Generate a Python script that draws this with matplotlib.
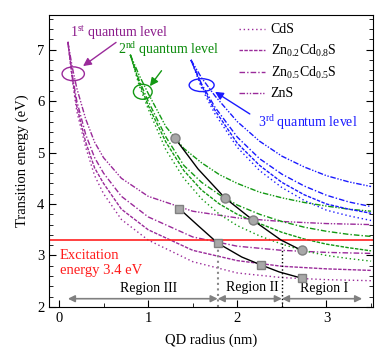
import matplotlib
matplotlib.use('Agg')
import matplotlib.pyplot as plt
from matplotlib.patches import Ellipse
from matplotlib.ticker import MultipleLocator

plt.rcParams['font.family'] = ['Liberation Serif', 'DejaVu Serif']
plt.rcParams['mathtext.fontset'] = 'custom'
plt.rcParams['mathtext.rm'] = 'Liberation Serif'
plt.rcParams['mathtext.it'] = 'Liberation Serif:italic'

materials = ['CdS', 'Zn$_{\\mathrm{0.2}}$Cd$_{\\mathrm{0.8}}$S',
             'Zn$_{\\mathrm{0.5}}$Cd$_{\\mathrm{0.5}}$S', 'ZnS']

# 1st quantum level (purple)
r_level1 = [0.1, 0.15, 0.2, 0.3, 0.4, 0.5, 0.7, 1.0, 1.5, 2.0, 2.5, 3.0, 3.5]
e1_cds = [7.15, 6.4, 5.8, 5.1, 4.55, 4.2, 3.7, 3.3, 2.88, 2.66, 2.57, 2.53, 2.51]
e1_zn02 = [7.15, 6.45, 5.9, 5.2, 4.7, 4.4, 3.9, 3.5, 3.1, 2.9, 2.79, 2.74, 2.71]
e1_zn05 = [7.15, 6.5, 6.0, 5.35, 4.9, 4.6, 4.15, 3.75, 3.36, 3.18, 3.10, 3.06, 3.04]
e1_zns = [7.15, 6.65, 6.25, 5.65, 5.2, 4.9, 4.5, 4.15, 3.86, 3.73, 3.66, 3.62, 3.60]

# 2nd quantum level (green)
r_level2 = [0.8, 0.9, 1.0, 1.2, 1.4, 1.6, 1.8, 2.0, 2.25, 2.5, 2.75, 3.0, 3.25, 3.5]
e2_cds = [6.9, 6.3, 5.85, 5.05, 4.5, 4.1, 3.8, 3.58, 3.38, 3.22, 3.09, 3.0, 2.94, 2.89]
e2_zn02 = [6.9, 6.35, 5.92, 5.2, 4.65, 4.27, 4.0, 3.8, 3.62, 3.45, 3.32, 3.22, 3.15, 3.09]
e2_zn05 = [6.9, 6.4, 6.0, 5.3, 4.75, 4.42, 4.18, 3.98, 3.8, 3.66, 3.55, 3.47, 3.41, 3.37]
e2_zns = [6.9, 6.5, 6.15, 5.5, 5.08, 4.8, 4.57, 4.4, 4.23, 4.12, 4.03, 3.96, 3.9, 3.86]

# 3rd quantum level (blue)
r_level3 = [1.48, 1.6, 1.75, 2.0, 2.25, 2.5, 2.75, 3.0, 3.25, 3.5]
e3_cds = [6.8, 6.25, 5.75, 5.1, 4.65, 4.32, 4.07, 3.88, 3.77, 3.68]
e3_zn02 = [6.8, 6.3, 5.82, 5.18, 4.75, 4.42, 4.18, 4.0, 3.9, 3.82]
e3_zn05 = [6.8, 6.33, 5.88, 5.3, 4.88, 4.58, 4.35, 4.17, 4.04, 3.95]
e3_zns = [6.8, 6.45, 6.1, 5.6, 5.22, 4.93, 4.72, 4.55, 4.43, 4.34]

# marked points and the black guide curves through them
circle_r = [1.30, 1.86, 2.18, 2.72]
circle_e = [5.28, 4.12, 3.68, 3.10]
circle_curve_r = [1.30, 1.56, 1.86, 2.18, 2.49, 2.72]
circle_curve_e = [5.28, 4.68, 4.12, 3.68, 3.30, 3.10]
square_r = [1.35, 1.78, 2.26, 2.72]
square_e = [3.91, 3.24, 2.82, 2.56]
square_curve_r = [1.35, 1.56, 1.78, 2.05, 2.26, 2.47, 2.72]
square_curve_e = [3.91, 3.58, 3.24, 2.97, 2.82, 2.68, 2.56]

excitation = 3.3
region_bounds = [0.1, 1.78, 2.5, 3.4]
region_names = ['Region III', 'Region II', 'Region I']

styles = [(0, (1, 2)), (0, (2.5, 1)), (0, (4, 1.5, 1, 1.5)), (0, (4, 1.2, 1, 1.2, 1, 1.2))]
purple = '#9a2a9a'
green = '#139913'
blue = '#1a1aff'

fig = plt.figure(figsize=(3.84, 3.52), dpi=100)
ax = fig.add_axes([0.128, 0.128, 0.843, 0.829])

level_sets = [
    (r_level1, [e1_cds, e1_zn02, e1_zn05, e1_zns], purple),
    (r_level2, [e2_cds, e2_zn02, e2_zn05, e2_zns], green),
    (r_level3, [e3_cds, e3_zn02, e3_zn05, e3_zns], blue),
]
for r, curves, col in level_sets:
    for i, e in enumerate(curves):
        label = materials[i] if col == purple else None
        ax.plot(r, e, color=col, lw=1.0, linestyle=styles[i], label=label)

ax.axhline(excitation, color='#ff2020', lw=1.2, zorder=2)

ax.plot(circle_curve_r, circle_curve_e, color='black', lw=1.0, zorder=3)
ax.plot(square_curve_r, square_curve_e, color='black', lw=1.0, zorder=3)
ax.plot(circle_r, circle_e, 'o', ms=6.5, mfc='#a8a8a8', mec='#808080', mew=1, zorder=4)
ax.plot(square_r, square_e, 's', ms=5.5, mfc='#a8a8a8', mec='#808080', mew=1, zorder=4)

# region boundaries
ax.plot([region_bounds[1]] * 2, [2, excitation], color='#888888', lw=1.5, linestyle=':', zorder=2)
ax.plot([region_bounds[2]] * 2, [2, excitation], color='black', lw=1.0, linestyle=':', zorder=2)
for i in range(3):
    ax.annotate('', xy=(region_bounds[i], 2.16), xytext=(region_bounds[i + 1], 2.16),
                arrowprops=dict(arrowstyle='<|-|>', color='#808080', lw=1.2,
                                mutation_scale=10, shrinkA=0, shrinkB=0))
region_text_pos = [(1.01, 2.36), (2.17, 2.38), (2.97, 2.36)]
for name, (x, y) in zip(region_names, region_text_pos):
    ax.text(x, y, name, ha='center', va='center', fontsize=10)

ax.text(0.01, 2.85, 'Excitation\nenergy 3.4 eV', color='#ff1a1a', fontsize=10.5,
        ha='left', va='center', linespacing=1.2)

# level annotations
ax.add_patch(Ellipse((0.16, 6.53), 0.25, 0.27, fill=False, ec=purple, lw=1.0))
ax.add_patch(Ellipse((0.94, 6.18), 0.21, 0.29, fill=False, ec=green, lw=1.0))
ax.add_patch(Ellipse((1.60, 6.31), 0.28, 0.25, fill=False, ec=blue, lw=1.0))
ax.annotate('', xy=(0.27, 6.68), xytext=(0.64, 7.14),
            arrowprops=dict(arrowstyle='-|>', color=purple, lw=1.0, mutation_scale=12,
                            shrinkA=0, shrinkB=0))
ax.annotate('', xy=(1.02, 6.29), xytext=(1.15, 6.59),
            arrowprops=dict(arrowstyle='-|>', color=green, lw=1.0, mutation_scale=12,
                            shrinkA=0, shrinkB=0))
ax.annotate('', xy=(1.75, 6.18), xytext=(2.14, 5.75),
            arrowprops=dict(arrowstyle='-|>', color=blue, lw=1.0, mutation_scale=12,
                            shrinkA=0, shrinkB=0))
ax.text(0.67, 7.33, '1$^{\\mathrm{st}}$ quantum level', color='#8b1a8b', fontsize=10,
        ha='center', va='center')
ax.text(1.23, 7.0, '2$^{\\mathrm{nd}}$ quantum level', color='#0a8a0a', fontsize=10,
        ha='center', va='center')
ax.text(2.79, 5.58, '3$^{\\mathrm{rd}}$ quantum level', color='#1a1aff', fontsize=10,
        ha='center', va='center')

ax.set_xlim(-0.11, 3.52)
ax.set_ylim(2, 7.67)
ax.xaxis.set_major_locator(MultipleLocator(1))
ax.xaxis.set_minor_locator(MultipleLocator(0.5))
ax.yaxis.set_major_locator(MultipleLocator(1))
ax.yaxis.set_minor_locator(MultipleLocator(0.2))
ax.tick_params(which='both', direction='in', right=True, top=False, labelsize=10.5)
ax.tick_params(which='major', length=5)
ax.tick_params(which='minor', length=3)
ax.set_xlabel('QD radius (nm)', fontsize=10.5, labelpad=6)
ax.set_ylabel('Transition energy (eV)', fontsize=10.5, labelpad=6)

ax.legend(loc='upper left', bbox_to_anchor=(0.56, 1.0), frameon=False, fontsize=10,
          handlelength=1.9, handletextpad=0.4, labelspacing=0.45, borderaxespad=0.2)

fig.savefig('out.png', dpi=100)
